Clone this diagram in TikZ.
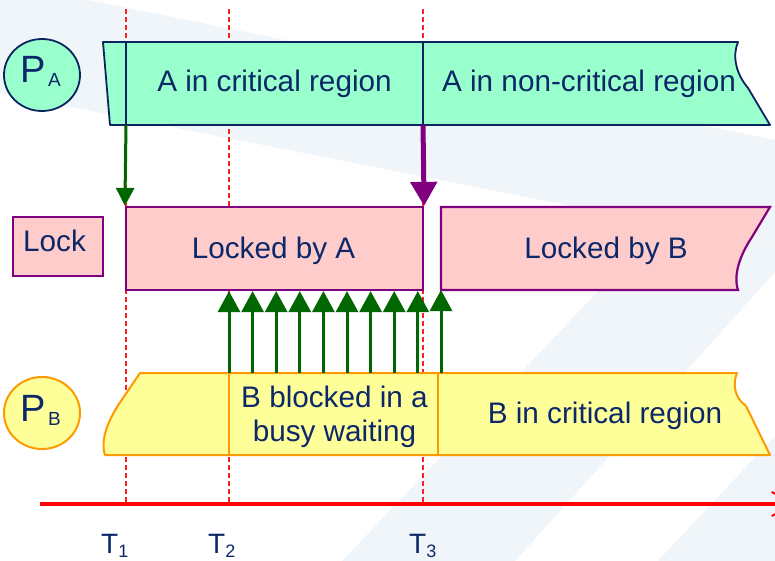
\documentclass[tikz,border=0pt]{standalone}
\usepackage{fontspec}
\setmainfont{Liberation Sans}
\usetikzlibrary{arrows.meta,shapes.geometric}

\definecolor{ink}{RGB}{12,40,104}
\definecolor{navyline}{RGB}{10,36,96}
\definecolor{mint}{RGB}{153,255,204}
\definecolor{rosefill}{RGB}{255,204,204}
\definecolor{lockpurple}{RGB}{128,0,128}
\definecolor{sunfill}{RGB}{255,255,153}
\definecolor{amber}{RGB}{255,153,0}
\definecolor{leafgreen}{RGB}{0,102,0}
\definecolor{guidered}{RGB}{255,30,30}
\definecolor{tint}{RGB}{240,245,249}

\begin{document}
\begin{tikzpicture}[x=1pt,y=-1pt,
  txt/.style={text=ink,inner sep=0,font=\fontsize{29.7}{34}\selectfont},
  seg/.style={inner sep=0,outer sep=0},
  abar/.style={draw=navyline,fill=mint,line width=1.8pt,line join=round},
  adiv/.style={draw=navyline,line width=1.8pt},
  lockbox/.style={draw=lockpurple,fill=rosefill,line width=2.2pt},
  bbar/.style={draw=amber,fill=sunfill,line width=2pt,line join=round},
  bdiv/.style={draw=amber,line width=2pt},
  guide/.style={draw=guidered,line width=1.1pt,dash pattern=on 5pt off 3pt},
  grabarrow/.style={draw=leafgreen,line width=3pt,-{Triangle[width=18pt,length=18pt]}},
  freearrow/.style={draw=lockpurple,line width=5pt,-{Triangle[width=26pt,length=24pt]}},
  polarrow/.style={draw=leafgreen,line width=3pt,-{Triangle[width=22pt,length=21pt]}},
  timeaxis/.style={draw=red,line width=4pt,-{Straight Barb[length=26pt,width=24pt,line width=2pt]}},
  tick/.style={anchor=base west,inner sep=0,text=ink}
]
\useasboundingbox (0,0) rectangle (775,561);
\clip (0,0) rectangle (775,561);
\fill[white] (0,0) rectangle (775,561);

% faint slide background stripes
\fill[tint] (0,0) -- (89,0) -- (775,140) -- (775,246) -- (0,93) -- cycle;
\fill[tint] (342,561) -- (515,561) -- (775,272) -- (775,246) -- (663,223) -- cycle;
\fill[tint] (658,561) -- (775,561) -- (775,436) -- cycle;

% time markers
\draw[guide] (126,9) -- (126,503);
\draw[guide] (229,9) -- (229,503);
\draw[guide] (423,9) -- (423,503);

% process A
\node[ellipse,draw=navyline,fill=mint,line width=1.8pt,minimum width=76pt,minimum height=72pt,inner sep=0] (pacirc) at (42,75) {};
\node[anchor=base west,inner sep=0,text=ink] (paname) at (20,83)
  {\fontsize{38}{38}\selectfont P\hspace{2.5pt}\raisebox{-4pt}{\fontsize{19}{19}\selectfont A}};
\path[abar] (103,42) -- (738,42) .. controls (732,56) and (736,74) .. (748,88)
  -- (770,125) -- (110,125) -- cycle;
\node[seg,minimum width=297pt,minimum height=83pt] (pa1) at (274.5,83.5) {};
\node[seg,minimum width=315pt,minimum height=83pt] (pa2) at (580.5,83.5) {};
\draw[adiv] (pa1.north west) -- (pa1.south west);
\draw[adiv] (pa1.north east) -- (pa1.south east);
\node[txt,anchor=base] (pa1t) at (274.5,92) {A in critical region};
\node[txt,anchor=base] (pa2t) at (589,92) {A in non-critical region};

% lock
\node[lockbox,minimum width=90pt,minimum height=59pt,inner sep=0] (lock) at (58,246.5) {};
\node[txt,anchor=base west] (lockt) at (23,251) {Lock};
\node[lockbox,minimum width=297pt,minimum height=83pt,inner sep=0] (lockA) at (274.5,248.5) {};
\node[txt,anchor=base] (lockAt) at (273.5,258) {Locked by A};
\path[lockbox] (441,207) -- (770,207) -- (752,237) .. controls (740,255) and (733,275) .. (738,290)
  -- (441,290) -- cycle;
\node[seg,minimum width=297pt,minimum height=83pt] (lockB) at (589.5,248.5) {};
\node[txt,anchor=base] (lockBt) at (606,258) {Locked by B};

% process B
\node[ellipse,draw=amber,fill=sunfill,line width=2pt,minimum width=76pt,minimum height=72pt,inner sep=0] (pbcirc) at (42,413) {};
\node[anchor=base west,inner sep=0,text=ink] (pbname) at (20,421)
  {\fontsize{38}{38}\selectfont P\hspace{2.5pt}\raisebox{-4pt}{\fontsize{19}{19}\selectfont B}};
\path[bbar] (140,373) -- (737,373) .. controls (732,385) and (735,398) .. (746,406)
  -- (770,455) -- (105,455) .. controls (100,440) and (108,420) .. (121,401) -- cycle;
\node[seg,minimum width=209pt,minimum height=82pt] (pbw) at (333.5,414) {};
\node[seg,minimum width=299pt,minimum height=82pt] (pbc) at (587.5,414) {};
\draw[bdiv] (pbw.north west) -- (pbw.south west);
\draw[bdiv] (pbw.north east) -- (pbw.south east);
\node[txt,anchor=base] (pbwt1) at (334.5,407) {B blocked in a};
\node[txt,anchor=base] (pbwt2) at (334.5,441) {busy waiting};
\node[txt,anchor=base] (pbct) at (605,423) {B in critical region};

% A takes the lock at T1 and releases it at T3
\draw[grabarrow] (pa1.south west) -- (lockA.north west);
\draw[freearrow] (pa1.south east) -- (lockA.north east);

% B keeps testing the lock while it spins
\foreach \k in {0,...,8}{
  \path (pbw.north west) ++(\k*23.6,0) coordinate (poll\k);
  \draw[polarrow] (poll\k) -- (poll\k |- lockA.south);
}
\path (pbc.north west) ++(3,0) coordinate (pollwin);
\draw[polarrow] (pollwin) -- (pollwin |- lockB.south);

% time axis
\coordinate (axisstart) at (40,504);
\coordinate (axisend) at (800,504);
\draw[timeaxis] (axisstart) -- (axisend);
\node[tick] (t1) at (101,553)
  {\fontsize{28}{28}\selectfont T\raisebox{-4.5pt}{\fontsize{18}{18}\selectfont 1}};
\node[tick] (t2) at (208,553)
  {\fontsize{28}{28}\selectfont T\raisebox{-4.5pt}{\fontsize{18}{18}\selectfont 2}};
\node[tick] (t3) at (409,553)
  {\fontsize{28}{28}\selectfont T\raisebox{-4.5pt}{\fontsize{18}{18}\selectfont 3}};
\end{tikzpicture}
\end{document}
